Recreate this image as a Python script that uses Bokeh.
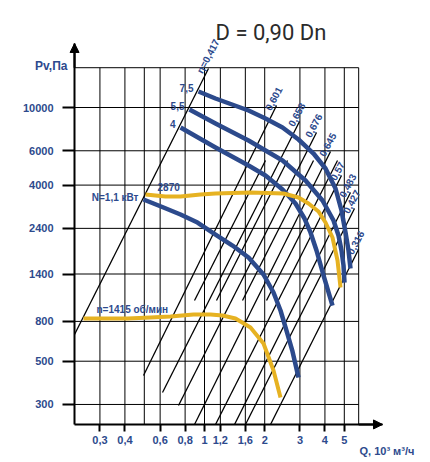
from bokeh.plotting import figure
from bokeh.models import (FixedTicker, CustomJSTickFormatter, Label, Arrow, NormalHead, Range1d)
from bokeh.core.properties import value
from bokeh.embed import file_html
from bokeh.resources import INLINE

# ---------------- axes / grid values ----------------
q_ticks = [0.3, 0.4, 0.6, 0.8, 1, 1.2, 1.6, 2, 3, 4, 5]
p_ticks = [300, 500, 800, 1400, 2400, 4000, 6000, 10000]
grid_q = [0.3, 0.4, 0.5, 0.6, 0.8, 1, 1.2, 1.6, 2, 3, 4, 5, 5.9]
grid_p = [300, 500, 800, 1400, 2400, 4000, 6000, 10000, 16000]
Q_MIN, Q_GRID_MAX, Q_ARROW = 0.224, 5.9, 7.76
P_MIN, P_GRID_MAX, P_ARROW = 237, 16000, 21300

# ---------------- curves (Q in 10^3 m3/h, Pv in Pa) ----------------
blue75_q = [0.933, 1.135, 1.660, 2.018, 2.455, 2.951, 3.508, 4.027, 4.519, 4.842, 5.070, 5.248, 5.370]
blue75_p = [12078, 11121, 9652, 8781, 7897, 6855, 5808, 4866, 3843, 2963, 2286, 1848, 1494]

blue55_q = [0.841, 1.135, 1.660, 2.455, 3.199, 3.891, 4.416, 4.677, 4.842, 4.955, 5.012]
blue55_p = [9767, 8279, 6772, 5349, 4224, 3335, 2633, 2206, 1848, 1548, 1266]

blue4_q = [0.759, 1.135, 1.660, 2.018, 2.455, 2.851, 3.162, 3.388, 3.631, 3.936, 4.365]
blue4_p = [7897, 6236, 5042, 4480, 3798, 3218, 2696, 2286, 1848, 1376, 965]

blue11_q = [0.4955, 0.6237, 0.7586, 0.9226, 1.135, 1.380, 1.660, 1.972, 2.213, 2.399, 2.570, 2.754, 2.951]
blue11_p = [3375, 3070, 2827, 2572, 2232, 1960, 1701, 1392, 1125, 910, 718, 561, 412]

yel2870_q = [0.507, 0.638, 0.759, 0.955, 1.135, 1.698, 2.483, 2.951, 3.311, 3.715, 4.027, 4.365, 4.624, 4.786]
yel2870_p = [3580, 3497, 3497, 3580, 3622, 3665, 3622, 3455, 3218, 2928, 2572, 2154, 1642, 1194]

yel1415_q = [0.2483, 0.3199, 0.4121, 0.5370, 0.6761, 0.8810, 1.0715, 1.2303, 1.4289, 1.6982, 1.9724, 2.2131, 2.3988]
yel1415_p = [828, 828, 828, 838, 848, 868, 868, 858, 828, 744, 616, 448, 326]

# ---------------- efficiency lines ----------------
eta_labels = ["η=0,417", "0,601", "0,658", "0,676", "0,645", "0,57", "0,483", "0,427", "0,316"]
eta_q_top = [1.047, 2.291, 2.985, 3.631, 4.266, 4.842, 5.370, 5.623, 5.888]
eta_p_top = [15849, 10239, 8478, 7442, 5947, 4480, 3665, 3034, 1870]
eta_q_bot = [0.2239, 0.4955, 0.6166, 0.7413, 0.8913, 1.135, 1.413, 1.603, 2.138]
eta_p_bot = [685.5, 422.4, 345.5, 296.3, 237, 237, 237, 237, 237]

# shorter unlabeled lines in the middle band
mid_q_top = [2.018, 2.600, 3.508, 4.624]
mid_p_top = [5349, 5349, 5349, 5349]
mid_q_bot = [0.8913, 1.148, 1.549, 2.042]
mid_p_bot = [1024, 1024, 1024, 1024]

power_labels = ["7,5", "5,5", "4"]

BLUE = "#2c4a8c"
TXT = "#2d4a8d"
YEL = "#e6b222"
FONT = "Liberation Sans"

# the frame fills the whole canvas; axes are pinned with fixed_location
p = figure(width=428, height=460, x_axis_type="log", y_axis_type="log",
           x_range=Range1d(0.09550, 13.18), y_range=Range1d(154.8, 35380),
           output_backend="svg", toolbar_location=None, title=None,
           min_border_left=0, min_border_right=0, min_border_top=0, min_border_bottom=0)
p.outline_line_color = None
p.xgrid.visible = False
p.ygrid.visible = False

# grid
nq, npp = len(grid_q), len(grid_p)
p.segment(x0=grid_q, y0=[P_MIN] * nq, x1=grid_q, y1=[P_GRID_MAX] * nq,
          line_color="black", line_width=1)
p.segment(x0=[Q_MIN] * npp, y0=grid_p, x1=[Q_GRID_MAX] * npp, y1=grid_p,
          line_color="black", line_width=1)

# efficiency lines
p.segment(x0=eta_q_bot, y0=eta_p_bot, x1=eta_q_top, y1=eta_p_top,
          line_color="black", line_width=1.3)
p.segment(x0=mid_q_bot, y0=mid_p_bot, x1=mid_q_top, y1=mid_p_top,
          line_color="black", line_width=1.3)

# curves
for qs, ps in [(blue75_q, blue75_p), (blue55_q, blue55_p), (blue4_q, blue4_p), (blue11_q, blue11_p)]:
    p.line(qs, ps, line_color=BLUE, line_width=4.5, line_join="round")
for qs, ps in [(yel2870_q, yel2870_p), (yel1415_q, yel1415_p)]:
    p.line(qs, ps, line_color=YEL, line_width=4, line_join="round")

common = dict(text_font=value(FONT), text_font_style="bold", text_font_size="10px",
              text_color=TXT)

p.text(x=eta_q_top, y=eta_p_top, text=eta_labels, angle=1.08, x_offset=-9, y_offset=4,
       text_align="left", text_baseline="middle", **common)
p.text(x=[blue75_q[0], blue55_q[0], blue4_q[0]], y=[blue75_p[0], blue55_p[0], blue4_p[0]],
       text=power_labels, x_offset=-5, y_offset=-4, text_align="right", text_baseline="middle",
       **common)
p.text(x=[blue11_q[0]], y=[blue11_p[0]], text=["N=1,1 кВт"], x_offset=-5, y_offset=-2,
       text_align="right", text_baseline="middle", **common)
p.text(x=[yel2870_q[0]], y=[yel2870_p[0]], text=["2870"], x_offset=12, y_offset=-7,
       text_align="left", text_baseline="middle", **common)
p.text(x=[yel1415_q[0]], y=[yel1415_p[0]], text=["n=1415 об/мин"], x_offset=13, y_offset=-9,
       text_align="left", text_baseline="middle", **common)

# axes
for ax in (p.xaxis[0], p.yaxis[0]):
    ax.axis_line_width = 2
    ax.axis_line_color = "black"
    ax.major_tick_line_width = 2
    ax.major_tick_line_color = "black"
    ax.major_tick_in = 0
    ax.minor_tick_line_color = None
    ax.major_label_text_font = FONT
    ax.major_label_text_font_style = "bold"
    ax.major_label_text_font_size = "11px"
    ax.major_label_text_color = TXT
p.xaxis.fixed_location = P_MIN
p.yaxis.fixed_location = Q_MIN
p.xaxis.bounds = (Q_MIN, Q_ARROW)
p.yaxis.bounds = (P_MIN, P_ARROW)
p.xaxis.ticker = FixedTicker(ticks=q_ticks)
p.yaxis.ticker = FixedTicker(ticks=p_ticks)
p.xaxis.formatter = CustomJSTickFormatter(code="return String(tick).replace('.', ',')")
p.yaxis.formatter = CustomJSTickFormatter(code="return String(tick)")
p.xaxis.major_tick_out = 7
p.yaxis.major_tick_out = 12
p.xaxis.major_label_standoff = 5
p.yaxis.major_label_standoff = 9

head = dict(size=9, fill_color="black", line_color="black", line_width=1)
p.add_layout(Arrow(end=NormalHead(**head), x_start=Q_MIN, y_start=P_GRID_MAX, x_end=Q_MIN,
                   y_end=P_ARROW, line_color="black", line_width=2))
p.add_layout(Arrow(end=NormalHead(**head), x_start=Q_GRID_MAX, y_start=P_MIN, x_end=Q_ARROW,
                   y_end=P_MIN, line_color="black", line_width=2))

p.add_layout(Label(x=215, y=428, x_units="screen", y_units="screen", text="D = 0,90 Dn",
                   text_font="Roboto", text_font_size="22px",
                   text_color="#2b2b2b", text_baseline="alphabetic"))
p.add_layout(Label(x=67, y=395, x_units="screen", y_units="screen", text="Pv,Па",
                   text_font=FONT, text_font_style="bold", text_font_size="12px",
                   text_color=TXT, text_align="right", text_baseline="alphabetic"))
p.add_layout(Label(x=359, y=10, x_units="screen", y_units="screen", text="Q, 10³ м³/ч",
                   text_font=FONT, text_font_style="bold", text_font_size="11px",
                   text_color=TXT, text_align="left", text_baseline="alphabetic"))

open("out.html", "w").write(file_html(p, INLINE))
